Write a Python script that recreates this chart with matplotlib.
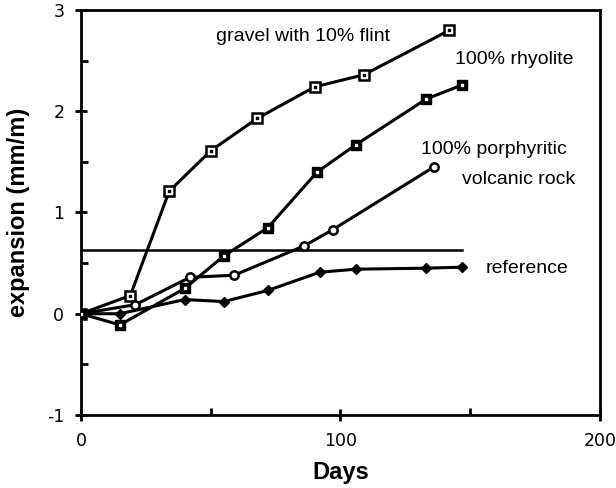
import matplotlib
matplotlib.use("Agg")
import matplotlib.pyplot as plt
from matplotlib.ticker import MultipleLocator

plt.rcParams["font.family"] = ["Liberation Sans", "DejaVu Sans"]
plt.rcParams["axes.unicode_minus"] = False

# expansion (mm/m) vs days
flint_days = [0, 19, 34, 50, 68, 90, 109, 142]
flint_exp = [0.0, 0.18, 1.21, 1.61, 1.93, 2.24, 2.36, 2.80]

rhyo_days = [0, 15, 40, 55, 72, 91, 106, 133, 147]
rhyo_exp = [0.0, -0.11, 0.25, 0.57, 0.85, 1.40, 1.67, 2.12, 2.26]

porph_days = [0, 21, 42, 59, 86, 97, 136]
porph_exp = [0.0, 0.09, 0.36, 0.38, 0.67, 0.83, 1.45]

ref_days = [0, 15, 40, 55, 72, 92, 106, 133, 147]
ref_exp = [0.0, 0.0, 0.14, 0.12, 0.23, 0.41, 0.44, 0.45, 0.46]

limit_y = 0.63
limit_end = 147

fig = plt.figure(figsize=(6.16, 4.88), dpi=100)
ax = fig.add_axes([0.1315, 0.1496, 0.8425, 0.83])

lw = 2.2
ax.plot(flint_days, flint_exp, color="black", lw=lw, marker="s", ms=7,
        mfc="white", mec="black", mew=1.8, zorder=3)
ax.plot(flint_days, flint_exp, ls="none", marker="s", ms=2, mfc="black",
        mec="black", zorder=4)
ax.plot(rhyo_days, rhyo_exp, color="black", lw=lw, marker="s", ms=7,
        mfc="black", mec="black", zorder=3)
ax.plot(rhyo_days, rhyo_exp, ls="none", marker="s", ms=2, mfc="white",
        mec="white", zorder=4)
ax.plot(porph_days, porph_exp, color="black", lw=lw, marker="o", ms=6,
        mfc="white", mec="black", mew=1.8, zorder=3)
ax.plot(ref_days, ref_exp, color="black", lw=lw, marker="D", ms=5.5,
        mfc="black", mec="black", zorder=3)
ax.plot([0, limit_end], [limit_y, limit_y], color="black", lw=1.8, zorder=2)

fs = 14
ax.text(52, 2.74, "gravel with 10% flint", fontsize=fs, va="center")
ax.text(144, 2.51, "100% rhyolite", fontsize=fs, va="center")
ax.text(131, 1.62, "100% porphyritic", fontsize=fs, va="center")
ax.text(147, 1.33, "volcanic rock", fontsize=fs, va="center")
ax.text(156, 0.45, "reference", fontsize=fs, va="center")

ax.set_xlim(0, 200)
ax.set_ylim(-1, 3)
ax.xaxis.set_major_locator(MultipleLocator(100))
ax.xaxis.set_minor_locator(MultipleLocator(50))
ax.yaxis.set_major_locator(MultipleLocator(1))
ax.yaxis.set_minor_locator(MultipleLocator(0.5))
ax.tick_params(which="major", direction="inout", length=8, width=2,
               labelsize=12.5, pad=8, labelfontfamily="DejaVu Sans")
ax.tick_params(which="minor", direction="in", length=5, width=2)
for s in ax.spines.values():
    s.set_linewidth(2)

ax.set_xlabel("Days", fontsize=17, fontweight="bold", labelpad=8)
ax.set_ylabel("expansion (mm/m)", fontsize=17, fontweight="bold", labelpad=12)

fig.savefig("out.png", dpi=100)
